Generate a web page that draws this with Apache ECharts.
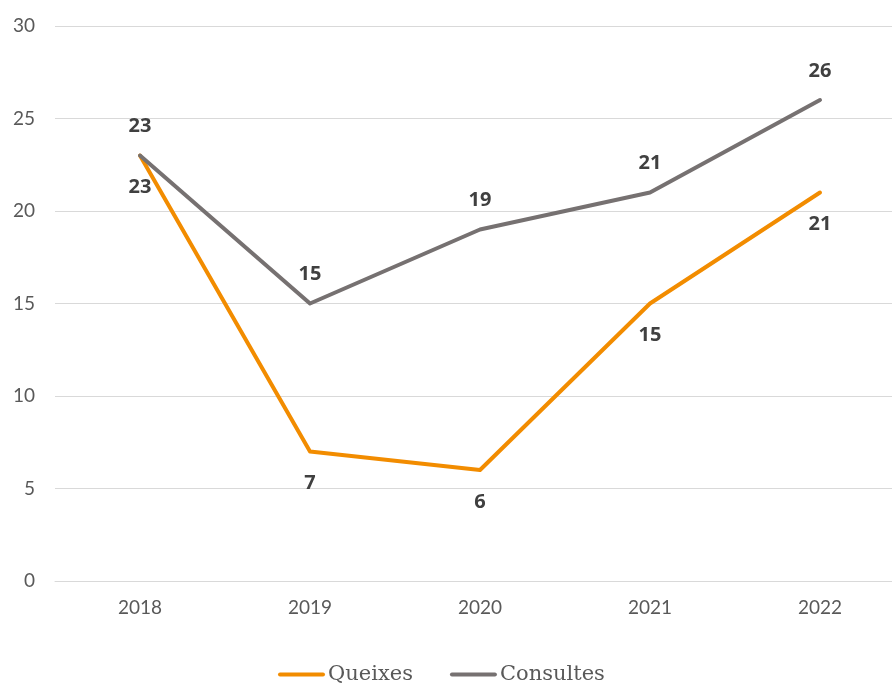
<!DOCTYPE html>
<html>
<head>
<meta charset="utf-8">
<script src="https://cdn.jsdelivr.net/npm/echarts@6/dist/echarts.min.js"></script>
<style>
  html, body { margin: 0; padding: 0; background: #ffffff; overflow: hidden; }
  #chart { width: 905px; height: 684px; }
</style>
</head>
<body>
<div id="chart"></div>
<script>
// Years on the category axis
const years = ['2018', '2019', '2020', '2021', '2022'];
// Series values
const queixes = [23, 7, 6, 15, 21];
const consultes = [23, 15, 19, 21, 26];
// Y axis ticks
const yTicks = [0, 5, 10, 15, 20, 25, 30];

const labelStyle = {
  show: true,
  fontFamily: 'Open Sans, Lato, sans-serif',
  fontWeight: 'bold',
  fontSize: 20,
  color: '#404040'
};

const chart = echarts.init(document.getElementById('chart'), null, { renderer: 'canvas' });
chart.setOption({
  animation: false,
  backgroundColor: '#ffffff',
  grid: { left: 55, right: 0, top: 26, bottom: 103, containLabel: false },
  legend: {
    top: 659,
    left: 273,
    itemWidth: 47,
    itemHeight: 4,
    itemGap: 37,
    icon: 'path://M2,0 L45,0 A2,2 0 0 1 45,4 L2,4 A2,2 0 0 1 2,0 Z',
    textStyle: { fontFamily: 'DejaVu Serif, serif', fontSize: 21, color: '#595959', padding: [0, 0, 0, -2] },
    data: ['Queixes', 'Consultes']
  },
  xAxis: {
    type: 'category',
    data: years,
    boundaryGap: true,
    axisLine: { show: true, lineStyle: { color: '#d9d9d9', width: 1 } },
    axisTick: { show: false },
    axisLabel: { margin: 17, fontFamily: 'Lato, Open Sans, sans-serif', fontSize: 19, color: '#595959' }
  },
  yAxis: {
    type: 'value',
    min: yTicks[0],
    max: yTicks[yTicks.length - 1],
    interval: 5,
    axisLine: { show: false },
    axisTick: { show: false },
    splitLine: { lineStyle: { color: '#d9d9d9', width: 1 } },
    axisLabel: { margin: 20, fontFamily: 'Lato, Open Sans, sans-serif', fontSize: 19, color: '#595959' }
  },
  series: [
    {
      name: 'Queixes',
      type: 'line',
      data: queixes,
      symbol: 'circle',
      symbolSize: 2,
      showSymbol: true,
      label: Object.assign({}, labelStyle, { position: 'bottom', distance: 21 }),
      itemStyle: { color: '#f28c00' },
      lineStyle: { width: 4, color: '#f28c00', cap: 'round', join: 'round' },
      z: 2
    },
    {
      name: 'Consultes',
      type: 'line',
      data: consultes,
      symbol: 'circle',
      symbolSize: 2,
      showSymbol: true,
      label: Object.assign({}, labelStyle, { position: 'top', distance: 18 }),
      itemStyle: { color: '#767171' },
      lineStyle: { width: 4, color: '#767171', cap: 'round', join: 'round' },
      z: 3
    }
  ]
});
</script>
</body>
</html>
